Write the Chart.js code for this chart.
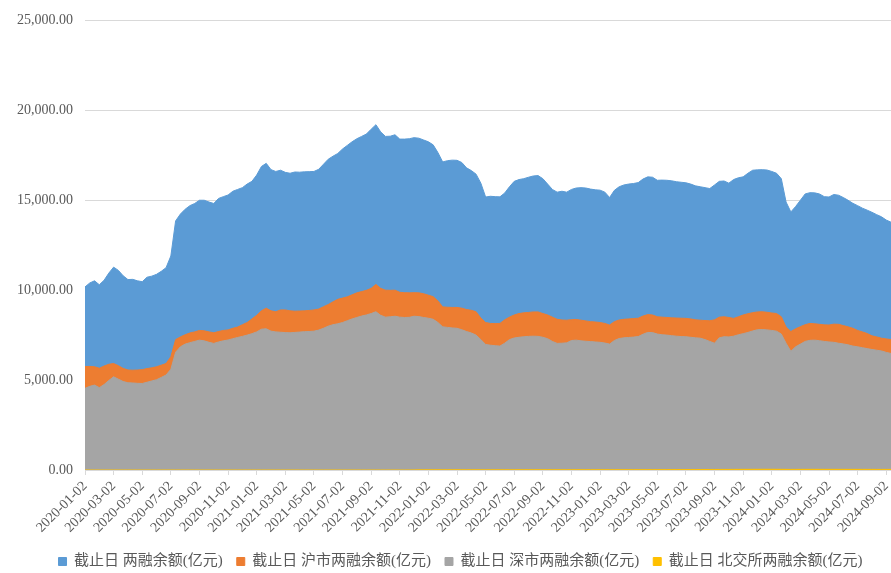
<!DOCTYPE html>
<html>
<head>
<meta charset="utf-8">
<script src="https://cdn.jsdelivr.net/npm/chart.js@4.4.1/dist/chart.umd.min.js"></script>
<style>
  body { margin: 0; background: #fff; }
  #wrap { width: 891px; height: 573px; }
</style>
</head>
<body>
<div id="wrap"><canvas id="chart" width="891" height="573"></canvas></div>
<script>
// categories: three sample dates per month (02 / 12 / 22), 2020-01-02 .. 2024-09-12
const categories = [];
for (let y = 2020; y <= 2024; y++) {
  for (let m = 1; m <= 12; m++) {
    for (const d of [2, 12, 22]) {
      if (y === 2024 && (m > 9 || (m === 9 && d > 12))) continue;
      categories.push(y + '-' + String(m).padStart(2, '0') + '-' + String(d).padStart(2, '0'));
    }
  }
}

// labels shown under the x axis
const tickLabels = [
  '2020-01-02', '2020-03-02', '2020-05-02', '2020-07-02', '2020-09-02', '2020-11-02',
  '2021-01-02', '2021-03-02', '2021-05-02', '2021-07-02', '2021-09-02', '2021-11-02',
  '2022-01-02', '2022-03-02', '2022-05-02', '2022-07-02', '2022-09-02', '2022-11-02',
  '2023-01-02', '2023-03-02', '2023-05-02', '2023-07-02', '2023-09-02', '2023-11-02',
  '2024-01-02', '2024-03-02', '2024-05-02', '2024-07-02', '2024-09-02'
];

const yTicks = [0, 5000, 10000, 15000, 20000, 25000];

const seriesNames = [
  '截止日 两融余额(亿元)',
  '截止日 沪市两融余额(亿元)',
  '截止日 深市两融余额(亿元)',
  '截止日 北交所两融余额(亿元)'
];

// 两融余额 (total)
const total = [
  10180, 10400, 10520, 10300, 10550, 10950,
  11280, 11100, 10800, 10590, 10600, 10520,
  10470, 10720, 10780, 10880, 11050, 11250,
  11900, 13850, 14230, 14500, 14700, 14820,
  15000, 15000, 14900, 14820, 15100, 15200,
  15290, 15500, 15600, 15700, 15900, 16050,
  16400, 16880, 17050, 16700, 16600, 16670,
  16550, 16500, 16570, 16560, 16580, 16590,
  16600, 16720, 17000, 17280, 17450, 17600,
  17850, 18050, 18250, 18420, 18550, 18680,
  18950, 19200, 18800, 18550, 18560, 18640,
  18400, 18400, 18420, 18480, 18450, 18350,
  18250, 18080, 17650, 17130, 17200, 17230,
  17220, 17100, 16800, 16650, 16450, 15950,
  15180, 15220, 15200, 15190, 15400, 15750,
  16050, 16150, 16200, 16280, 16350, 16370,
  16200, 15900, 15600, 15450, 15500, 15450,
  15600, 15680, 15700, 15680, 15620, 15580,
  15560, 15450, 15150, 15550, 15750, 15850,
  15900, 15930, 15980, 16180, 16300, 16280,
  16110, 16120, 16110, 16080, 16030, 16000,
  15970, 15900, 15800, 15750, 15700, 15650,
  15850, 16050, 16070, 15950, 16150, 16250,
  16300, 16500, 16670, 16690, 16700, 16680,
  16600, 16500, 16200, 14900, 14350, 14650,
  15000, 15350, 15420, 15410, 15350, 15200,
  15180, 15320, 15280, 15150, 15000, 14830,
  14700, 14560, 14450, 14330, 14200, 14080,
  13900, 13780
];

// 沪市两融余额
const shanghai = [
  5750, 5760, 5740, 5660, 5780, 5880,
  5920, 5800, 5650, 5560, 5550, 5560,
  5580, 5640, 5680, 5740, 5830, 5920,
  6300, 7250, 7400, 7520, 7620, 7680,
  7760, 7740, 7680, 7630, 7700, 7760,
  7790, 7880, 7950, 8080, 8200, 8400,
  8600, 8850, 9000, 8850, 8800, 8900,
  8900, 8850, 8830, 8840, 8850, 8870,
  8900, 8950, 9080, 9200, 9350, 9490,
  9560, 9630, 9740, 9850, 9920, 9990,
  10100, 10320, 10100, 10000, 9990, 10000,
  9880, 9860, 9850, 9860, 9850, 9800,
  9720, 9640, 9400, 9070, 9050, 9040,
  9040, 9000, 8920, 8880, 8800, 8450,
  8200, 8150, 8140, 8150, 8350, 8500,
  8620, 8700, 8740, 8760, 8790, 8790,
  8700, 8620, 8500, 8380, 8340, 8330,
  8360, 8370, 8330, 8290, 8250, 8230,
  8200, 8150, 8060, 8250, 8340, 8380,
  8400, 8420, 8440, 8560, 8640, 8620,
  8520, 8500, 8480, 8460, 8450, 8440,
  8430, 8400, 8350, 8330, 8310, 8300,
  8350, 8500, 8520, 8480, 8430, 8520,
  8620, 8690, 8750, 8790, 8800, 8770,
  8730, 8700, 8520, 7950, 7700, 7850,
  7970, 8080, 8150, 8130, 8100, 8070,
  8060, 8110, 8100, 8030, 7960, 7880,
  7760, 7680, 7590, 7460, 7400, 7330,
  7290, 7250
];

// 深市两融余额
const shenzhen = [
  4540, 4650, 4720, 4580, 4750, 4980,
  5180, 5050, 4920, 4850, 4840, 4820,
  4810, 4880, 4950, 5020, 5150, 5280,
  5600, 6550, 6850, 7000, 7080, 7150,
  7220, 7180, 7100, 7040, 7120, 7180,
  7230, 7300, 7370, 7430, 7500, 7580,
  7680, 7830, 7850, 7720, 7680, 7660,
  7640, 7630, 7650, 7670, 7690, 7700,
  7720, 7780, 7880, 8000, 8080, 8130,
  8200, 8300, 8400, 8480, 8560, 8620,
  8700, 8800, 8600, 8500, 8520, 8550,
  8500, 8480, 8490, 8550, 8530, 8480,
  8440, 8380, 8200, 7960, 7930, 7900,
  7880, 7800, 7700, 7620, 7500, 7250,
  6980, 6940, 6910, 6890, 7050, 7250,
  7340, 7380, 7410, 7430, 7440, 7430,
  7380, 7300, 7150, 7040, 7050, 7070,
  7200, 7220, 7180, 7160, 7140, 7120,
  7100, 7060, 7000, 7200, 7310, 7350,
  7370, 7390, 7420, 7550, 7650, 7640,
  7560, 7520, 7500, 7470, 7440, 7420,
  7410, 7380, 7350, 7330, 7250, 7150,
  7050, 7350, 7410, 7400, 7440, 7520,
  7580, 7650, 7730, 7800, 7810, 7790,
  7760, 7720, 7560, 7050, 6600, 6850,
  7000, 7150, 7210, 7220, 7190, 7150,
  7120, 7100, 7050, 7010, 6960, 6890,
  6850, 6800, 6750, 6700, 6660, 6620,
  6540, 6480
];

// 北交所两融余额 (opened Nov 2021, tiny)
const beijing = [
  0, 0, 0, 0, 0, 0,
  0, 0, 0, 0, 0, 0,
  0, 0, 0, 0, 0, 0,
  0, 0, 0, 0, 0, 0,
  0, 0, 0, 0, 0, 0,
  0, 0, 0, 0, 0, 0,
  0, 0, 0, 0, 0, 0,
  0, 0, 0, 0, 0, 0,
  0, 0, 0, 0, 0, 0,
  0, 0, 0, 0, 0, 0,
  0, 0, 0, 0, 0, 0,
  0, 0, 2, 5, 8, 10,
  11, 12, 12, 12, 13, 13,
  13, 13, 12, 12, 12, 11,
  11, 11, 11, 11, 12, 12,
  13, 14, 14, 15, 15, 15,
  15, 15, 14, 14, 14, 14,
  15, 15, 15, 15, 15, 15,
  15, 15, 15, 16, 16, 17,
  17, 17, 18, 18, 19, 19,
  19, 20, 20, 21, 22, 23,
  24, 25, 26, 27, 28, 29,
  30, 31, 32, 33, 34, 35,
  36, 37, 38, 39, 40, 40,
  40, 39, 38, 35, 33, 34,
  35, 36, 37, 37, 37, 36,
  36, 36, 36, 36, 35, 35,
  35, 34, 34, 34, 33, 33,
  33, 33
];

const colors = ['#5B9BD5', '#ED7D31', '#A5A5A5', '#FFC000'];
const serif = "'Liberation Serif', 'Times New Roman', 'Noto Sans CJK SC', serif";

const makeSet = (label, data, color, order) => ({
  label: label,
  data: data,
  backgroundColor: color,
  borderColor: color,
  borderWidth: 1,
  fill: 'origin',
  pointRadius: 0,
  tension: 0,
  order: order
});

// nudge the legend a little to the right, like the original
const legendShift = {
  id: 'legendShift',
  afterLayout(chart) {
    if (chart.legend) chart.legend.left += 30;
  }
};

new Chart(document.getElementById('chart'), {
  type: 'line',
  data: {
    labels: categories,
    datasets: [
      makeSet(seriesNames[0], total, colors[0], 3),
      makeSet(seriesNames[1], shanghai, colors[1], 2),
      makeSet(seriesNames[2], shenzhen, colors[2], 1),
      makeSet(seriesNames[3], beijing, colors[3], 0)
    ]
  },
  plugins: [legendShift],
  options: {
    responsive: false,
    animation: false,
    layout: { padding: { top: 20, right: 0, bottom: -6, left: 0 } },
    plugins: {
      tooltip: { enabled: false },
      legend: {
        position: 'bottom',
        labels: {
          boxWidth: 8,
          boxHeight: 8,
          padding: 14,
          color: '#595959',
          font: { family: serif, size: 15 },
          sort: (a, b) => a.datasetIndex - b.datasetIndex
        }
      }
    },
    scales: {
      x: {
        grid: {
          drawOnChartArea: false,
          tickLength: 5,
          color: ctx => (ctx.tick && tickLabels.includes(ctx.tick.label)) ? '#d9d9d9' : 'rgba(0,0,0,0)'
        },
        border: { color: '#d9d9d9' },
        ticks: {
          autoSkip: false,
          minRotation: 45,
          maxRotation: 45,
          padding: 3,
          color: '#595959',
          font: { family: serif, size: 14 },
          callback: (v, i) => tickLabels.includes(categories[i]) ? categories[i] : ''
        },
        afterFit: s => { s.height = 70; s.paddingLeft = 0; s.paddingRight = 0; }
      },
      y: {
        min: 0,
        max: 25000,
        afterBuildTicks: s => { s.ticks = yTicks.map(v => ({ value: v })); },
        grid: { color: '#d9d9d9', drawTicks: false },
        border: { display: false },
        ticks: {
          padding: 12,
          color: '#595959',
          font: { family: serif, size: 14 },
          callback: v => v.toLocaleString('en-US', { minimumFractionDigits: 2, maximumFractionDigits: 2 })
        },
        afterFit: s => { s.width = 85; }
      }
    }
  }
});
</script>
</body>
</html>
